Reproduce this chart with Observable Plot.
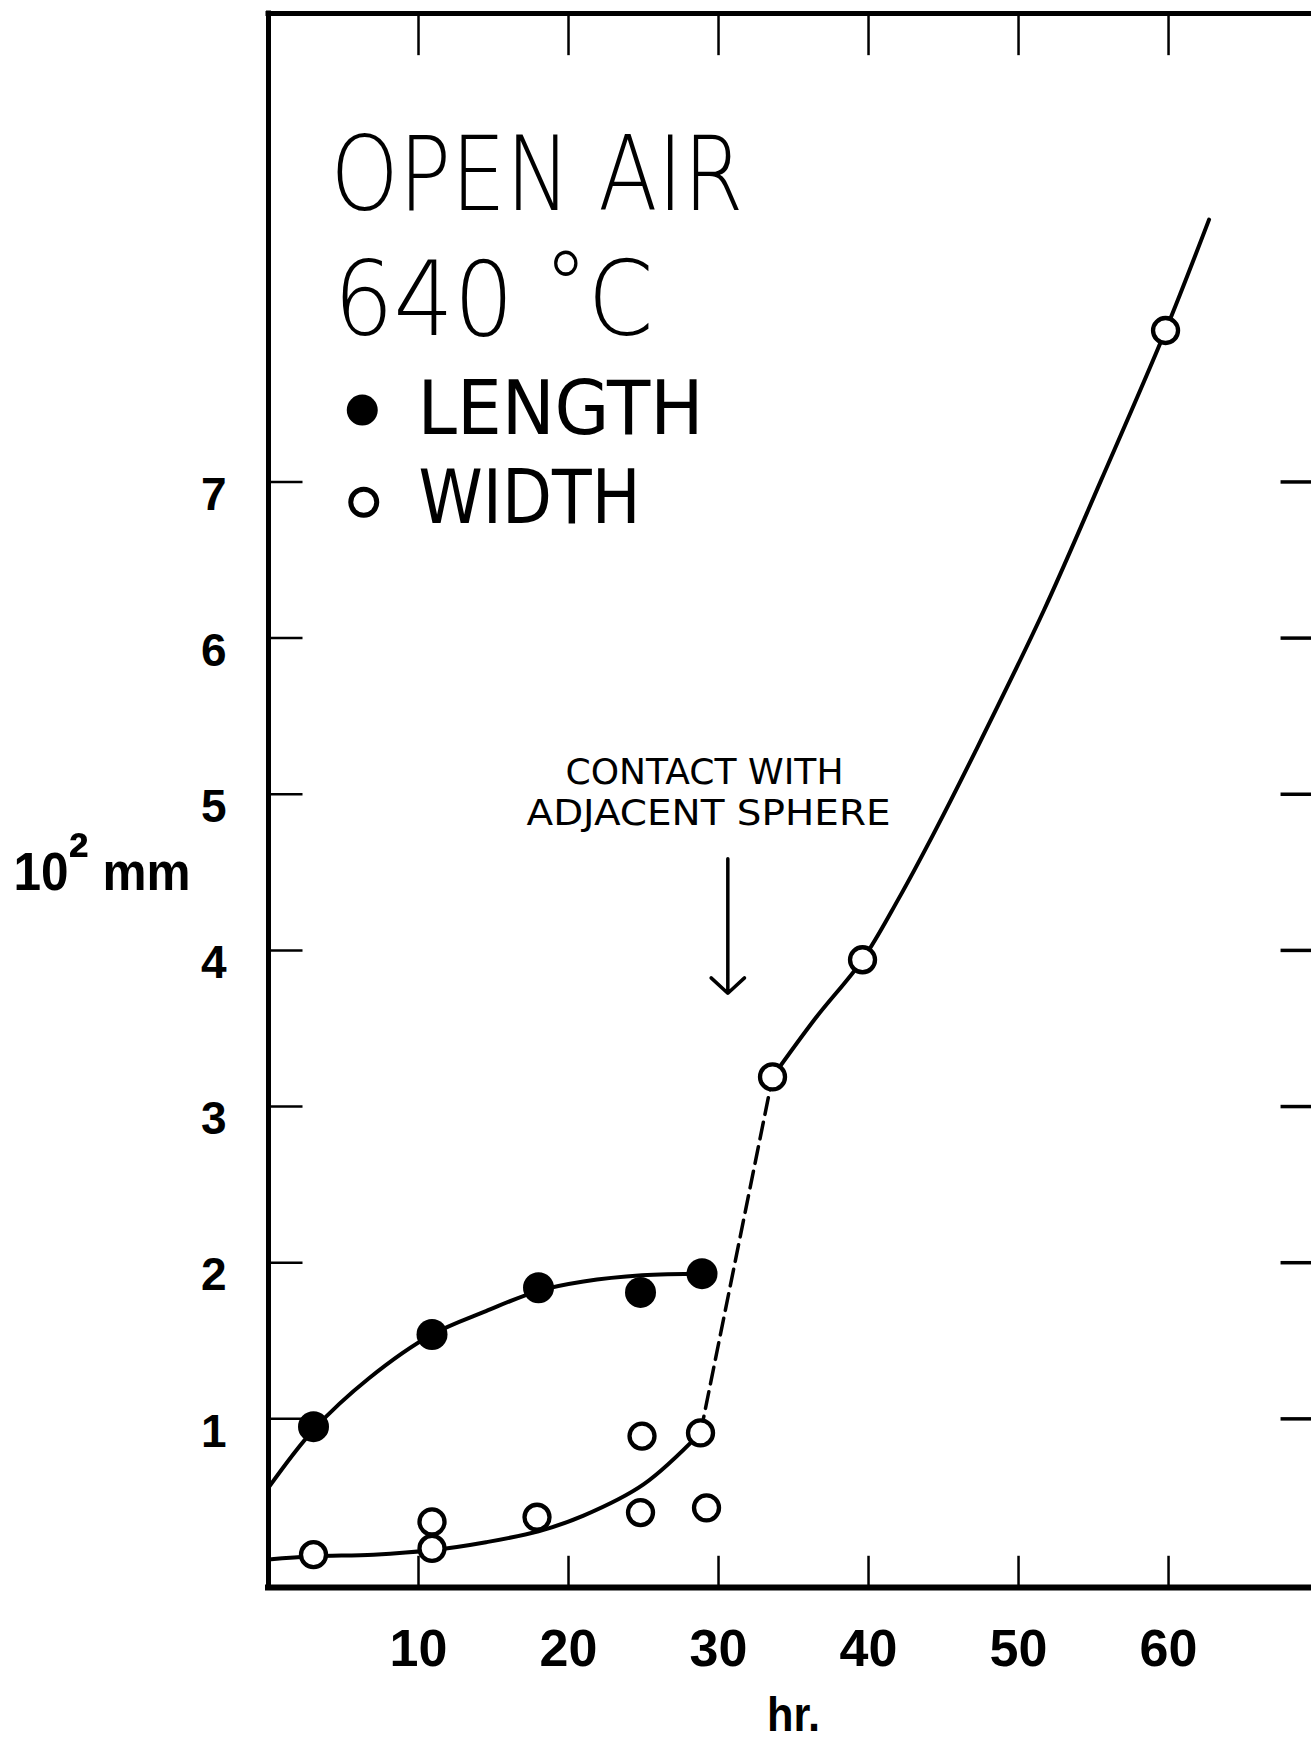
<!DOCTYPE html>
<html>
<head>
<meta charset="utf-8">
<script src="https://cdn.jsdelivr.net/npm/d3@7"></script>
<script src="https://cdn.jsdelivr.net/npm/@observablehq/plot@0.6"></script>
<style>
  html, body { margin: 0; padding: 0; background: #fff; overflow: hidden; }
  #chart svg { display: block; }
</style>
</head>
<body>
<div id="chart"></div>
<script>
// ---- data (x: hours, y: 10^2 mm) ----
const lengthHours  = [3.0, 10.9, 18.0, 24.8, 28.9];
const lengthValues = [0.95, 1.54, 1.84, 1.81, 1.93];

const widthHours  = [3.0, 10.9, 10.9, 17.9, 24.8, 24.9, 28.8, 29.2, 33.6, 39.6, 59.8];
const widthValues = [0.13, 0.17, 0.34, 0.37, 0.40, 0.89, 0.91, 0.43, 3.19, 3.94, 7.97];

// hand-drawn fitted curves as they appear in the figure
const lengthCurveHours  = [0, 3, 6.7, 10.9, 14.5, 18, 21, 24.9, 29];
const lengthCurveValues = [0.56, 0.93, 1.26, 1.54, 1.69, 1.82, 1.88, 1.92, 1.93];

const widthCurveHours  = [0, 3, 7, 11, 14.5, 18, 21, 25, 28.8];
const widthCurveValues = [0.10, 0.12, 0.13, 0.16, 0.21, 0.28, 0.38, 0.58, 0.91];

const contactCurveHours  = [28.8, 33.6];
const contactCurveValues = [0.91, 3.19];

const upperCurveHours  = [33.6, 36.5, 39.6, 42.0, 44.3, 47.1, 51.7, 55.5, 59.8, 62.7];
const upperCurveValues = [3.19, 3.57, 3.94, 4.33, 4.74, 5.27, 6.18, 7.01, 7.97, 8.68];

const xTicks = [10, 20, 30, 40, 50, 60];
const yTicks = [1, 2, 3, 4, 5, 6, 7];

const titleLines = ["OPEN AIR", "640 °C"];
const legendLabels = ["LENGTH", "WIDTH"];
const noteLines = ["CONTACT WITH", "ADJACENT SPHERE"];
const yLabel = "10² mm";
const xLabel = "hr.";

// ---- tables ----
const pts = (xs, ys) => xs.map((x, i) => ({x, y: ys[i]}));
const lengthPts = pts(lengthHours, lengthValues);
const widthPts = pts(widthHours, widthValues);
const lengthCurve = pts(lengthCurveHours, lengthCurveValues);
const widthCurve = pts(widthCurveHours, widthCurveValues);
const contactCurve = pts(contactCurveHours, contactCurveValues);
const upperCurve = pts(upperCurveHours, upperCurveValues);

const X0 = 0, X1 = 69.53, Y0 = -0.08, Y1 = 10;
const thin = "DejaVu Sans";
const bold = "Liberation Sans";
const fmt = d => String(d);

const svg = Plot.plot({
  width: 1311,
  height: 1740,
  marginLeft: 268,
  marginRight: 0,
  marginTop: 13,
  marginBottom: 153,
  style: {background: "white", color: "black", fontFamily: thin},
  x: {domain: [X0, X1]},
  y: {domain: [Y0, Y1]},
  marks: [
    // axes (labels only; ticks are drawn inward below)
    Plot.axisX(xTicks, {tickSize: 0, tickPadding: 42, fontSize: 52, fontWeight: "bold", fontFamily: bold, label: null, tickFormat: fmt}),
    Plot.axisY(yTicks, {tickSize: 0, tickPadding: 42, fontSize: 46, fontWeight: "bold", fontFamily: bold, label: null, dy: 13, tickFormat: fmt}),

    // frame
    Plot.ruleX([X0], {y1: Y0, y2: Y1, strokeWidth: 5, strokeLinecap: "square"}),
    Plot.ruleY([Y1], {x1: X0, x2: X1, strokeWidth: 5, strokeLinecap: "square"}),
    Plot.ruleY([Y0], {x1: X0, x2: X1, strokeWidth: 6, strokeLinecap: "square"}),

    // inward ticks
    Plot.ruleY(yTicks, {x1: X0, x2: 2.3, strokeWidth: 2.5}),
    Plot.ruleY(yTicks, {x1: 67.5, x2: X1, strokeWidth: 3.5}),
    Plot.ruleX(xTicks, {y1: Y1, y2: Y1 - 0.27, strokeWidth: 2.5}),
    Plot.ruleX(xTicks, {y1: Y0, y2: Y0 + 0.2, strokeWidth: 2.5}),

    // curves
    Plot.line(lengthCurve, {x: "x", y: "y", curve: "catmull-rom", strokeWidth: 4}),
    Plot.line(widthCurve, {x: "x", y: "y", curve: "catmull-rom", strokeWidth: 4}),
    Plot.line(contactCurve, {x: "x", y: "y", strokeWidth: 3.5, strokeDasharray: "17,8"}),
    Plot.line(upperCurve, {x: "x", y: "y", curve: "catmull-rom", strokeWidth: 4}),

    // data points
    Plot.dot(lengthPts, {x: "x", y: "y", r: 15.5, fill: "black", stroke: "none"}),
    Plot.dot(widthPts, {x: "x", y: "y", r: 12.5, fill: "white", stroke: "black", strokeWidth: 4.3}),

    // title block
    Plot.text([titleLines[0]], {x: 4.13, y: 8.74, text: d => d, textAnchor: "start", lineAnchor: "bottom", fontSize: 103, fontWeight: 200, fontFamily: thin}),
    Plot.text([titleLines[1]], {x: 4.33, y: 7.94, text: d => d, textAnchor: "start", lineAnchor: "bottom", fontSize: 103, fontWeight: 200, fontFamily: thin}),

    // legend
    Plot.dot([legendLabels[0]], {x: 6.25, y: 7.46, r: 15.5, fill: "black", stroke: "none"}),
    Plot.dot([legendLabels[1]], {x: 6.35, y: 6.87, r: 13, fill: "white", stroke: "black", strokeWidth: 5}),
    Plot.text([legendLabels[0]], {x: 9.93, y: 7.31, text: d => d, textAnchor: "start", lineAnchor: "bottom", fontSize: 75, fontFamily: thin}),
    Plot.text([legendLabels[1]], {x: 10.0, y: 6.74, text: d => d, textAnchor: "start", lineAnchor: "bottom", fontSize: 75, fontFamily: thin}),

    // annotation
    Plot.text([noteLines[0]], {x: 19.8, y: 5.065, text: d => d, textAnchor: "start", lineAnchor: "bottom", fontSize: 35, fontFamily: thin}),
    Plot.text([noteLines[1]], {x: 17.2, y: 4.80, text: d => d, textAnchor: "start", lineAnchor: "bottom", fontSize: 35, fontFamily: thin}),
    Plot.arrow([0], {x1: 30.62, x2: 30.62, y1: 4.587, y2: 3.726, bend: 0, headAngle: 95, headLength: 9.7, strokeWidth: 3.5, inset: 0}),

    // axis titles
    Plot.text([yLabel], {x: X0, y: 4.39, dx: -78, text: d => d, textAnchor: "end", lineAnchor: "bottom", fontSize: 54, fontWeight: "bold", fontFamily: bold}),
    Plot.text([xLabel], {x: 35, y: -1.0, text: d => d, textAnchor: "middle", lineAnchor: "bottom", fontSize: 48, fontWeight: "bold", fontFamily: bold})
  ]
});

document.getElementById("chart").append(svg);

// ---- typographic touch-ups (condensed lettering, raised degree / superscript) ----
const NS = "http://www.w3.org/2000/svg";
const fit = {"OPEN AIR": 413, "640 °C": 320, "LENGTH": 286, "WIDTH": 222,
             "CONTACT WITH": 278, "ADJACENT SPHERE": 364, "hr.": 53, "10² mm": 177};
d3.select(svg).selectAll("text").each(function () {
  const t = this.textContent;
  if (t === "640 °C") {
    this.textContent = "640 ";
    const deg = document.createElementNS(NS, "tspan");
    deg.setAttribute("dy", "-16"); deg.setAttribute("font-size", "95"); deg.textContent = "°";
    const c = document.createElementNS(NS, "tspan");
    c.setAttribute("dy", "16"); c.textContent = "C";
    this.append(deg, c);
  } else if (t === "10² mm") {
    this.textContent = "10";
    const sup = document.createElementNS(NS, "tspan");
    sup.setAttribute("dy", "-11"); sup.setAttribute("font-size", "66"); sup.textContent = "²";
    const mm = document.createElementNS(NS, "tspan");
    mm.setAttribute("dy", "11"); mm.textContent = " mm";
    this.append(sup, mm);
  }
  if (fit[t]) {
    this.setAttribute("textLength", fit[t]);
    this.setAttribute("lengthAdjust", "spacingAndGlyphs");
  }
});
</script>
</body>
</html>
